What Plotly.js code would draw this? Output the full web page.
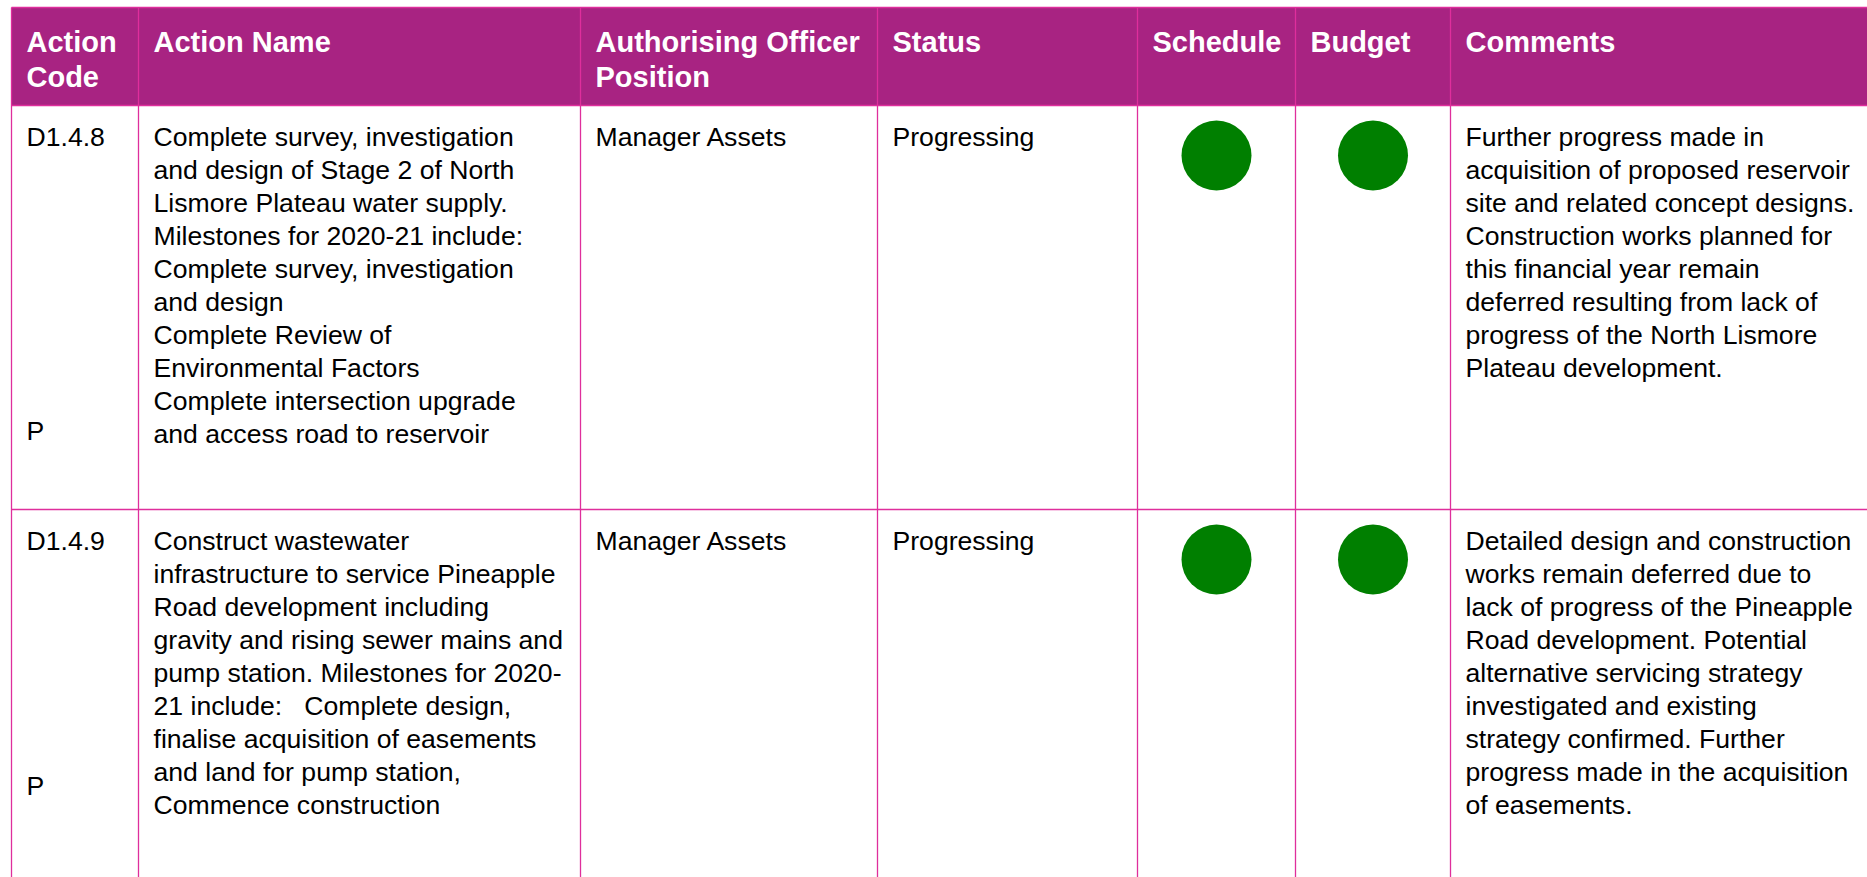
<!DOCTYPE html>
<html><head><meta charset="utf-8">
<script src="https://cdn.plot.ly/plotly-3.0.1.min.js"></script>
<style>html,body{margin:0;padding:0;background:#fff;overflow:hidden}</style>
</head><body><div id="chart" style="width:1867px;height:877px"></div>
<script>
// ---------- content ----------
const headerLines = [["Action","Code"],["Action Name"],["Authorising Officer","Position"],["Status"],["Schedule"],["Budget"],["Comments"]];
const actionCodes = ["D1.4.8","D1.4.9"];
const priorityFlags = ["P","P"];
const actionNameLines = [
  ["Complete survey, investigation","and design of Stage 2 of North","Lismore Plateau water supply.","Milestones for 2020-21 include:","Complete survey, investigation","and design","Complete Review of","Environmental Factors","Complete intersection upgrade","and access road to reservoir"],
  ["Construct wastewater","infrastructure to service Pineapple","Road development including","gravity and rising sewer mains and","pump station. Milestones for 2020-","21 include:\u00A0\u00A0\u00A0Complete design,","finalise acquisition of easements","and land for pump station,","Commence construction"]
];
const officerPositions = ["Manager Assets","Manager Assets"];
const statuses = ["Progressing","Progressing"];
const scheduleRatings = ["On track","On track"];
const budgetRatings = ["On track","On track"];
const commentLines = [
  ["Further progress made in","acquisition of proposed reservoir","site and related concept designs.","Construction works planned for","this financial year remain","deferred resulting from lack of","progress of the North Lismore","Plateau development."],
  ["Detailed design and construction","works remain deferred due to","lack of progress of the Pineapple","Road development. Potential","alternative servicing strategy","investigated and existing","strategy confirmed. Further","progress made in the acquisition","of easements."]
];
const ratingColours = {"On track":"#007F00"};

// ---------- geometry & style ----------
const W = 1867, H = 877;
const colEdges = [11.5,138.5,580.5,877.5,1137.5,1295.5,1450.5,1905];
const tableTop = 7.5, headerBottom = 105.5, rowEdges = [105.5,509.5,905];
const padX = 15, headerBaseline = 52, headerLH = 35, bodyFirstBaseline = 41, bodyLH = 33;
const flagOffsets = [335, 286];
const circleOffset = 50, circleSize = 70;
const headerFill = "#A82382", lineColour = "#DF2E9C";
const FONT = "Arial, 'Liberation Sans', sans-serif";
const bodySize = 26.6, headerSize = 29;

// text helpers: 'middle right' puts baseline at y + 0.25*fontSize
const hdr = {x:[],y:[],text:[]};
const body = {x:[],y:[],text:[]};
function put(store, col, baseline, txt, fs){
  store.x.push(colEdges[col] + padX);
  store.y.push(baseline - 0.25*fs);
  store.text.push(txt);
}
headerLines.forEach((lines,c)=>lines.forEach((t,i)=>put(hdr,c,headerBaseline+i*headerLH,t,headerSize)));

const markX=[], markY=[], markC=[], markT=[];
for(let r=0;r<actionCodes.length;r++){
  const top = rowEdges[r];
  const b0 = top + bodyFirstBaseline;
  put(body,0,b0,actionCodes[r],bodySize);
  put(body,0,top+flagOffsets[r],priorityFlags[r],bodySize);
  actionNameLines[r].forEach((t,i)=>put(body,1,b0+i*bodyLH,t,bodySize));
  put(body,2,b0,officerPositions[r],bodySize);
  put(body,3,b0,statuses[r],bodySize);
  commentLines[r].forEach((t,i)=>put(body,6,b0+i*bodyLH,t,bodySize));
  [[4,scheduleRatings[r]],[5,budgetRatings[r]]].forEach(([c,v])=>{
    markX.push((colEdges[c]+colEdges[c+1])/2);
    markY.push(top+circleOffset);
    markC.push(ratingColours[v]);
    markT.push(v);
  });
}

const traces = [
  {type:'scatter',mode:'markers',x:markX,y:markY,text:markT,hoverinfo:'text',
   marker:{size:circleSize,color:markC,line:{width:0}},showlegend:false,cliponaxis:false},
  {type:'scatter',mode:'text',x:hdr.x,y:hdr.y,text:hdr.text,textposition:'middle right',
   textfont:{family:FONT,size:headerSize,color:'#ffffff',weight:'bold'},hoverinfo:'skip',showlegend:false,cliponaxis:false},
  {type:'scatter',mode:'text',x:body.x,y:body.y,text:body.text,textposition:'middle right',
   textfont:{family:FONT,size:bodySize,color:'#000000'},hoverinfo:'skip',showlegend:false,cliponaxis:false}
];

const shapes = [];
shapes.push({type:'rect',xref:'x',yref:'y',x0:colEdges[0],x1:colEdges[colEdges.length-1],y0:tableTop,y1:headerBottom,
  fillcolor:headerFill,line:{width:0},layer:'below'});
[tableTop, headerBottom, rowEdges[1]].forEach(y=>shapes.push({type:'line',xref:'x',yref:'y',
  x0:colEdges[0],x1:colEdges[colEdges.length-1],y0:y,y1:y,line:{color:lineColour,width:1.3},layer:'below'}));
colEdges.slice(0,-1).forEach(x=>shapes.push({type:'line',xref:'x',yref:'y',
  x0:x,x1:x,y0:tableTop,y1:rowEdges[rowEdges.length-1],line:{color:lineColour,width:1.3},layer:'below'}));

const layout = {
  width:W,height:H,margin:{l:0,r:0,t:0,b:0,pad:0},
  paper_bgcolor:'#ffffff',plot_bgcolor:'#ffffff',
  xaxis:{range:[0,W],visible:false,fixedrange:true},
  yaxis:{range:[H,0],visible:false,fixedrange:true},
  shapes:shapes,showlegend:false,hovermode:false
};
Plotly.newPlot('chart',traces,layout,{displayModeBar:false,staticPlot:true});
</script></body></html>
